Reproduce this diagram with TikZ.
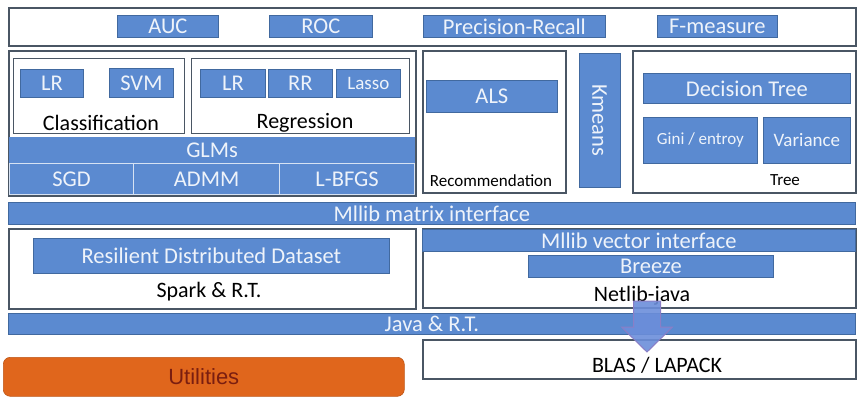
\documentclass[tikz,border=0pt]{standalone}
\usepackage{fontspec}
\setmainfont{Carlito}
\newfontfamily\utilfont{Liberation Sans}
\usetikzlibrary{positioning}
\definecolor{mlblue}{HTML}{5B8AD0}
\definecolor{mledge}{HTML}{41699F}
\definecolor{mlframe}{HTML}{4A5664}
\definecolor{mlorange}{HTML}{E0661C}
\definecolor{mlred}{HTML}{7A1E10}
\definecolor{mltext}{HTML}{EEF3FA}
\definecolor{mlarrow}{HTML}{6C8EDA}
\definecolor{mlarrowedge}{HTML}{8A7EC6}
\begin{document}
\begin{tikzpicture}[x=1pt, y=-1pt,
    frame/.style={draw=mlframe, line width=1.8pt, fill=white, anchor=north west, inner sep=0pt},
    thinframe/.style={frame, line width=1.3pt},
    blk/.style={draw=mledge, line width=0.8pt, fill=mlblue, text=mltext, anchor=north west,
      inner sep=0pt, font=\fontsize{22.5}{26}\selectfont},
    band/.style={blk, draw=white!75!mlblue, line width=1.2pt},
    small/.style={font=\fontsize{17}{20}\selectfont},
    lbl/.style={inner sep=0pt, anchor=base, text=black, font=\fontsize{22}{26}\selectfont},
    bigarrow/.style={fill=mlarrow, fill opacity=0.9, draw=mlarrowedge, line width=1pt,
      line join=miter}]

  \useasboundingbox (0,0) rectangle (863,400);

  % Evaluation
  \node[frame, minimum width=847pt, minimum height=38pt] (eval) at (8,7) {};
  \node[blk, minimum width=101pt, minimum height=22pt] (auc) at (117,15) {AUC};
  \node[blk, minimum width=103pt, minimum height=22pt] (roc) at (269,15) {ROC};
  \node[blk, minimum width=182pt, minimum height=22pt] (prc) at (423,15) {Precision-Recall};
  \node[blk, minimum width=120pt, minimum height=22pt] (fms) at (657,15) {F-measure};

  % GLMs
  \node[frame, minimum width=407pt, minimum height=145pt] (glm) at (8,50) {};
  \node[thinframe, minimum width=171pt, minimum height=75pt] (cls) at (13,58) {};
  \node[thinframe, minimum width=218pt, minimum height=75pt] (reg) at (191,58) {};
  \node[blk, minimum width=63pt, minimum height=28pt] (clslr) at (20,69) {LR};
  \node[blk, minimum width=64pt, minimum height=29pt] (svm) at (109,68) {SVM};
  \node[blk, minimum width=65pt, minimum height=28pt] (reglr) at (200,69) {LR};
  \node[blk, minimum width=64pt, minimum height=28pt] (rr) at (268,69) {RR};
  \node[blk, font=\fontsize{19}{22}\selectfont, minimum width=64pt, minimum height=28pt] (lasso) at (336,69) {Lasso};
  \node[lbl] (clstxt) at (101,130) {Classification};
  \node[lbl] (regtxt) at (305,128) {Regression};
  \node[band, draw=mlblue, minimum width=405pt, minimum height=25pt] (glms) at (9,137) {GLMs};
  \node[band, minimum width=124pt, minimum height=31pt] (sgd) at (9,163) {SGD};
  \node[band, minimum width=146pt, minimum height=31pt] (admm) at (133,163) {ADMM};
  \node[band, minimum width=135pt, minimum height=31pt] (lbfgs) at (279,163) {L-BFGS};

  % Recommendation, Kmeans, Tree
  \node[frame, minimum width=143pt, minimum height=142pt] (rec) at (422,50) {};
  \node[blk, minimum width=131pt, minimum height=32pt] (als) at (426,80) {ALS};
  \node[lbl, small] (rectxt) at (491,186) {Recommendation};
  \node[blk, minimum width=134pt, minimum height=41pt, rotate=-90, anchor=center] (kmeans) at (599.5,120) {Kmeans};
  \node[frame, minimum width=223pt, minimum height=142pt] (tree) at (632,50) {};
  \node[blk, minimum width=207pt, minimum height=30pt] (dtree) at (643,73) {Decision Tree};
  \node[blk, small, minimum width=114pt, minimum height=46pt] (gini) at (643,117) {Gini / entroy};
  \node[blk, font=\fontsize{19}{22}\selectfont, minimum width=87pt, minimum height=46pt] (var) at (763,117) {Variance};
  \node[lbl, small] (treetxt) at (785,185) {Tree};

  % Interfaces and runtime
  \node[blk, minimum width=847pt, minimum height=22pt] (matrix) at (8,202) {Mllib matrix interface};
  \node[frame, minimum width=407pt, minimum height=80pt] (spark) at (8,228) {};
  \node[blk, minimum width=356pt, minimum height=35pt] (rdd) at (33,238) {Resilient Distributed Dataset};
  \node[lbl] (sparktxt) at (209,297) {Spark \& R.T.};
  \node[frame, minimum width=433pt, minimum height=79pt] (netlib) at (422,228) {};
  \node[blk, minimum width=433pt, minimum height=22pt] (vector) at (422,229) {Mllib vector interface};
  \node[blk, minimum width=245pt, minimum height=22pt] (breeze) at (528,255) {Breeze};
  \node[lbl] (netlibtxt) at (642,301) {Netlib-java};
  \node[blk, minimum width=847pt, minimum height=21pt] (java) at (8,313) {Java \& R.T.};
  \node[frame, minimum width=433pt, minimum height=39pt] (blas) at (422,339) {};
  \node[lbl] (blastxt) at (657,372) {BLAS / LAPACK};

  % Arrow from Netlib-java down to BLAS
  \coordinate (arrtip) at (647,352);
  \draw[bigarrow] (arrtip) -- ++(-25.5,-25) -- ++(12,0) -- ++(0,-26) -- ++(27,0)
    -- ++(0,26) -- ++(12,0) -- cycle;

  % Utilities
  \node[fill=mlorange, draw=mlorange!85!black, line width=0.6pt, rounded corners=7pt,
    anchor=north west, minimum width=401pt, minimum height=39pt, text=mlred,
    font=\utilfont\fontsize{22}{26}\selectfont] (util) at (3,357) {Utilities};

\end{tikzpicture}
\end{document}
